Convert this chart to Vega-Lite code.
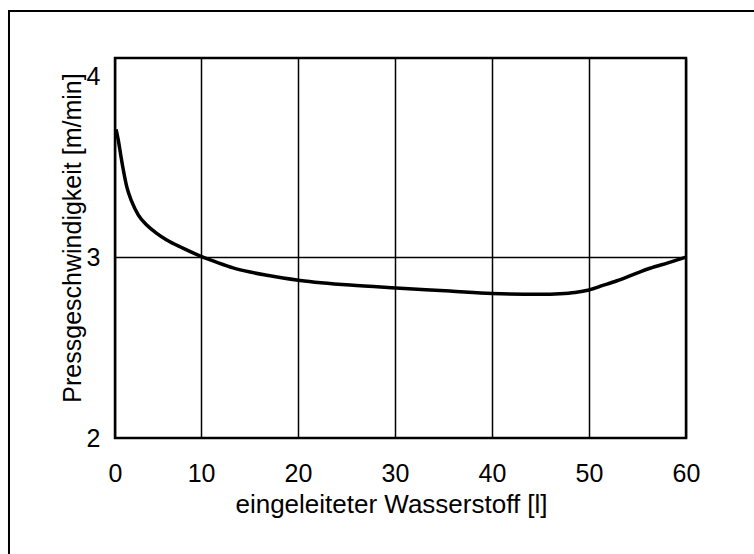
{
  "$schema": "https://vega.github.io/schema/vega-lite/v6.json",
  "autosize": {"type": "none"},
  "padding": {"left": 115, "top": 58, "right": 68, "bottom": 116},
  "width": 571,
  "height": 380,
  "background": "white",
  "config": {
    "font": "Liberation Sans",
    "view": {"stroke": "black", "strokeWidth": 2.5},
    "axis": {
      "domain": false,
      "ticks": false,
      "tickSize": 0,
      "labelFlush": false,
      "labelOverlap": false,
      "labelFont": "Liberation Sans",
      "titleFont": "Liberation Sans",
      "labelFontSize": 25,
      "titleFontSize": 25,
      "labelColor": "black",
      "titleColor": "black",
      "titleFontWeight": "normal",
      "gridColor": "black",
      "gridWidth": 1.5
    }
  },
  "datasets": {
    "curve": [
      {"h2": 1.24, "v": 3.706},
      {"h2": 1.47, "v": 3.646},
      {"h2": 1.72, "v": 3.564},
      {"h2": 1.99, "v": 3.481},
      {"h2": 2.34, "v": 3.389},
      {"h2": 2.86, "v": 3.306},
      {"h2": 3.54, "v": 3.232},
      {"h2": 4.40, "v": 3.177},
      {"h2": 5.43, "v": 3.131},
      {"h2": 6.46, "v": 3.094},
      {"h2": 8.18, "v": 3.048},
      {"h2": 10.07, "v": 3.002},
      {"h2": 11.65, "v": 2.970},
      {"h2": 13.30, "v": 2.940},
      {"h2": 15.05, "v": 2.917},
      {"h2": 16.80, "v": 2.899},
      {"h2": 18.45, "v": 2.884},
      {"h2": 20.21, "v": 2.871},
      {"h2": 25.36, "v": 2.845},
      {"h2": 30.10, "v": 2.829},
      {"h2": 35.67, "v": 2.812},
      {"h2": 40.0, "v": 2.798},
      {"h2": 44.95, "v": 2.794},
      {"h2": 47.01, "v": 2.797},
      {"h2": 48.56, "v": 2.804},
      {"h2": 50.0, "v": 2.818},
      {"h2": 51.44, "v": 2.843},
      {"h2": 52.89, "v": 2.869},
      {"h2": 54.54, "v": 2.903},
      {"h2": 56.29, "v": 2.938},
      {"h2": 58.14, "v": 2.968},
      {"h2": 60.0, "v": 3.0}
    ],
    "frame": [{"x0": -9.8, "x1": 72, "y0": 1.1, "y1": 4.36}]
  },
  "layer": [
    {
      "data": {"name": "curve"},
      "mark": {"type": "line", "color": "black", "strokeWidth": 3.5, "interpolate": "monotone"},
      "encoding": {
        "x": {
          "field": "h2", "type": "quantitative",
          "scale": {"domain": [1.13, 60], "nice": false, "zero": false},
          "axis": {
            "values": [1.13, 10, 20, 30, 40, 50, 60],
            "labelExpr": "datum.value < 5 ? '0' : datum.label",
            "labelPadding": 23,
            "grid": true,
            "title": "eingeleiteter Wasserstoff [l]",
            "titleFontSize": 26,
            "titleBaseline": "alphabetic",
            "titleAlign": "center",
            "titleX": 276,
            "titleY": 74
          }
        },
        "y": {
          "field": "v", "type": "quantitative",
          "scale": {"domain": [2, 4.1], "nice": false, "zero": false},
          "axis": {
            "values": [2, 3, 4],
            "tickCount": 3,
            "labelExpr": "'' + round(datum.value)",
            "labelPadding": 15,
            "grid": true,
            "gridOpacity": {"condition": {"test": "round(datum.value) === 3", "value": 1}, "value": 0},
            "title": "Pressgeschwindigkeit [m/min]",
            "titleFontSize": 25,
            "titleBaseline": "alphabetic",
            "titleAlign": "center",
            "titleAngle": -90,
            "titleX": -35,
            "titleY": 179.5
          }
        }
      }
    },
    {
      "data": {"name": "frame"},
      "mark": {"type": "rect", "fill": null, "fillOpacity": 0, "stroke": "black", "strokeWidth": 2, "clip": false},
      "encoding": {
        "x": {"field": "x0", "type": "quantitative"},
        "x2": {"field": "x1"},
        "y": {"field": "y0", "type": "quantitative"},
        "y2": {"field": "y1"}
      }
    }
  ]
}
